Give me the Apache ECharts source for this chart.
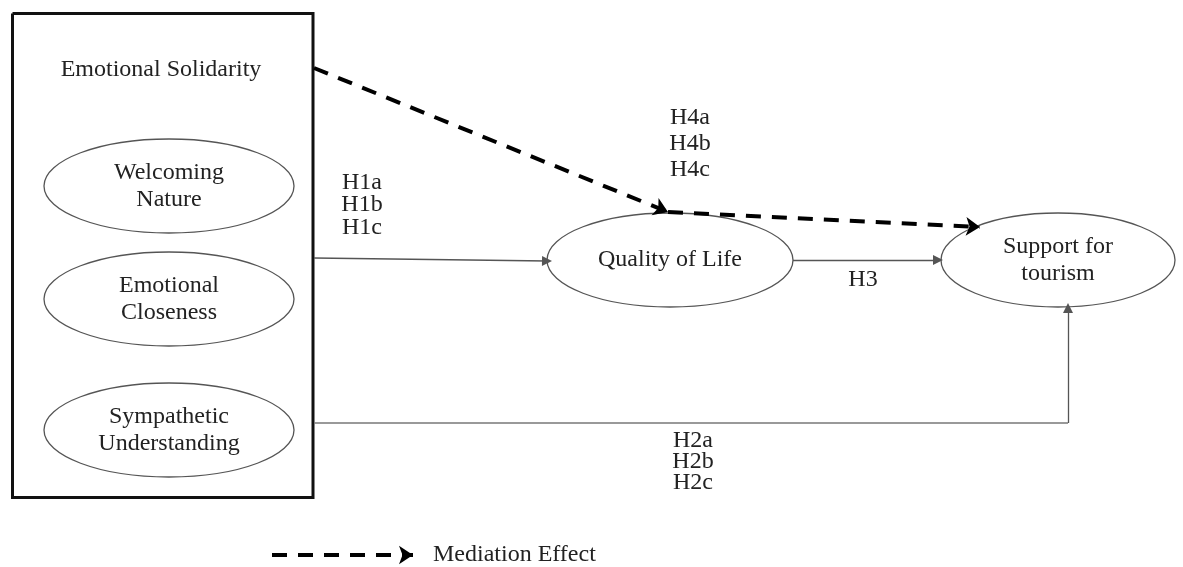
<!DOCTYPE html>
<html>
<head>
<meta charset="utf-8">
<script src="https://cdn.jsdelivr.net/npm/echarts@6/dist/echarts.min.js"></script>
<style>
  html, body { margin: 0; padding: 0; background: #fff; }
  #chart { width: 1183px; height: 567px; }
</style>
</head>
<body>
<div id="chart"></div>
<script>
// diagram nodes (centre + radii, in canvas units of the hidden axes)
const nodeNames = ['Welcoming\nNature', 'Emotional\nCloseness', 'Sympathetic\nUnderstanding', 'Quality of Life', 'Support for\ntourism'];
const nodeX = [169, 169, 169, 670, 1058];
const nodeY = [186, 299, 430, 260, 260];
const nodeRx = [125, 125, 125, 123, 117];
const nodeRy = [47, 47, 47, 47, 47];

// outer construct box
const boxCorners = [[12.5, 13.5], [313, 13.5], [313, 497.5], [12.5, 497.5], [12.5, 13.5]];
const boxTitle = 'Emotional Solidarity';
const boxTitlePos = [161, 70];

// solid arrows (H1, H3, H2 last leg) and the plain H2 leg
const arrowSegs = [
    [[314, 258], [547, 261]],
    [[793, 260], [938, 260]],
    [[1068, 423], [1068, 308]]
];
const plainSegs = [
    [[314, 423], [1068, 423]]
];
// mediation (dashed) arrows + legend sample
const dashedSegs = [
    [[314, 68], [668, 212]],
    [[668, 212], [980, 227]],
    [[272, 555], [413, 555]]
];
const legendText = 'Mediation Effect';
const legendTextPos = [433, 555];

// hypothesis labels
const hypLabels = ['H1a\nH1b\nH1c', 'H4a\nH4b\nH4c', 'H3', 'H2a\nH2b\nH2c'];
const hypX = [362, 690, 863, 693];
const hypY = [205, 144, 280, 462];
const hypLineHeight = [22.5, 26, 24, 21];

const FONT = '24px "Liberation Serif", "Times New Roman", serif';
const INK = '#222';

const chart = echarts.init(document.getElementById('chart'));

const nodeData = nodeNames.map((n, i) => [nodeX[i], nodeY[i], nodeRx[i], nodeRy[i], n]);
const hypData = hypLabels.map((h, i) => [hypX[i], hypY[i], hypLineHeight[i], h]);
const textData = [
    [boxTitlePos[0], boxTitlePos[1], 'center', boxTitle],
    [legendTextPos[0], legendTextPos[1], 'left', legendText]
];
const toData = segs => segs.map(p => ({ coords: p }));

const option = {
    animation: false,
    backgroundColor: '#fff',
    grid: { left: 0, right: 0, top: 0, bottom: 0 },
    xAxis: { type: 'value', min: 0, max: 1183, show: false },
    yAxis: { type: 'value', min: 0, max: 567, inverse: true, show: false },
    series: [
        {
            // box
            type: 'lines',
            coordinateSystem: 'cartesian2d',
            polyline: true,
            symbol: 'none',
            silent: true,
            lineStyle: { color: '#111', width: 3, type: 'solid', opacity: 1, join: 'miter' },
            data: [{ coords: boxCorners }],
            z: 3
        },
        {
            type: 'lines',
            coordinateSystem: 'cartesian2d',
            symbol: ['none', 'triangle'],
            symbolSize: [8, 10],
            silent: true,
            lineStyle: { color: '#555', width: 1.3, type: 'solid', opacity: 1 },
            data: toData(arrowSegs),
            z: 3
        },
        {
            type: 'lines',
            coordinateSystem: 'cartesian2d',
            symbol: 'none',
            silent: true,
            lineStyle: { color: '#777', width: 1.5, type: 'solid', opacity: 1 },
            data: toData(plainSegs),
            z: 3
        },
        {
            // dashed mediation arrows
            type: 'lines',
            coordinateSystem: 'cartesian2d',
            symbol: ['none', 'arrow'],
            symbolSize: [12, 14],
            silent: true,
            lineStyle: { color: '#000', width: 4, type: [15, 11], opacity: 1 },
            data: toData(dashedSegs),
            z: 4
        },
        {
            // ellipses with text
            type: 'custom',
            coordinateSystem: 'cartesian2d',
            silent: true,
            data: nodeData,
            z: 2,
            renderItem: function (params, api) {
                const c = api.coord([api.value(0), api.value(1)]);
                const s = api.size([api.value(2), api.value(3)]);
                return {
                    type: 'group',
                    children: [
                        {
                            type: 'ellipse',
                            shape: { cx: c[0], cy: c[1], rx: s[0], ry: s[1] },
                            style: { fill: '#fff', stroke: '#555', lineWidth: 1.3 }
                        },
                        {
                            type: 'text',
                            x: c[0],
                            y: c[1],
                            style: {
                                text: nodeData[params.dataIndex][4],
                                font: FONT,
                                fill: INK,
                                align: 'center',
                                verticalAlign: 'middle',
                                lineHeight: 27
                            }
                        }
                    ]
                };
            }
        },
        {
            // hypothesis labels
            type: 'custom',
            coordinateSystem: 'cartesian2d',
            silent: true,
            data: hypData,
            z: 5,
            renderItem: function (params, api) {
                const c = api.coord([api.value(0), api.value(1)]);
                return {
                    type: 'text',
                    x: c[0],
                    y: c[1],
                    style: {
                        text: hypData[params.dataIndex][3],
                        font: FONT,
                        fill: INK,
                        align: 'center',
                        verticalAlign: 'middle',
                        lineHeight: hypData[params.dataIndex][2]
                    }
                };
            }
        },
        {
            // title + legend text
            type: 'custom',
            coordinateSystem: 'cartesian2d',
            silent: true,
            data: textData,
            z: 5,
            renderItem: function (params, api) {
                const c = api.coord([api.value(0), api.value(1)]);
                const d = textData[params.dataIndex];
                return {
                    type: 'text',
                    x: c[0],
                    y: c[1],
                    style: {
                        text: d[3],
                        font: FONT,
                        fill: INK,
                        align: d[2],
                        verticalAlign: 'middle'
                    }
                };
            }
        }
    ]
};

chart.setOption(option);
</script>
</body>
</html>
